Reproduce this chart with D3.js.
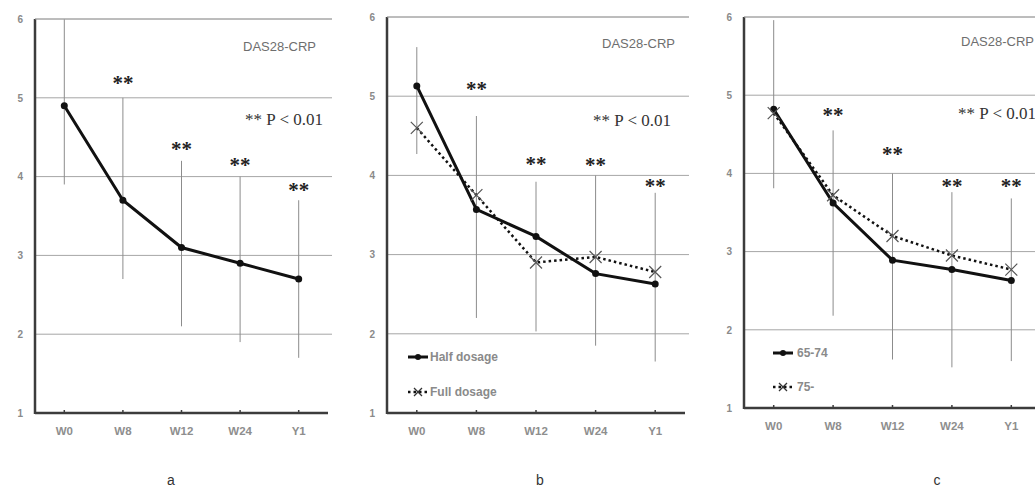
<!DOCTYPE html>
<html>
<head>
<meta charset="utf-8">
<script src="https://cdn.jsdelivr.net/npm/d3@7"></script>
<style>
  body { margin: 0; background: #fff; }
  svg { display: block; }
</style>
</head>
<body>
<div id="chart"></div>
<script>
// data
const categories = ['W0', 'W8', 'W12', 'W24', 'Y1'];
const yTicks = [1, 2, 3, 4, 5, 6];

// panel a: all patients
const aMean  = [4.9, 3.7, 3.1, 2.9, 2.7];
const aUpper = [6.0, 5.0, 4.2, 4.0, 3.7];
const aLower = [3.9, 2.7, 2.1, 1.9, 1.7];
const aStars = [null, 5.23, 4.39, 4.19, 3.88];

// panel b: half vs full dosage
const bHalf  = [5.13, 3.57, 3.23, 2.76, 2.63];
const bFull  = [4.6, 3.75, 2.9, 2.97, 2.78];
const bUpper = [5.62, 4.75, 3.92, 4.0, 3.78];
const bLower = [4.27, 2.2, 2.03, 1.85, 1.65];
const bStars = [null, 5.13, 4.19, 4.18, 3.91];

// panel c: age groups
const c6574  = [4.82, 3.62, 2.89, 2.77, 2.63];
const c75    = [4.77, 3.72, 3.2, 2.95, 2.77];
const cUpper = [5.96, 4.55, 4.0, 3.76, 3.68];
const cLower = [3.81, 2.18, 1.62, 1.52, 1.6];
const cStars = [null, 4.79, 4.29, 3.89, 3.89];

const svg = d3.select('#chart').append('svg')
    .attr('width', 1035)
    .attr('height', 487);

const sans = "'Liberation Sans', Arial, sans-serif";
const serif = "'Liberation Serif', 'Times New Roman', serif";

function drawPanel(cfg) {
    const x = d3.scaleBand().domain(categories).range([cfg.x0, cfg.x1]);
    const cx = c => x(c) + x.bandwidth() / 2;
    const y = d3.scaleLinear().domain([1, 6]).range([cfg.yBot, cfg.yTop]);
    const g = svg.append('g');

    // horizontal grid
    g.selectAll('line.grid')
        .data(yTicks.filter(t => t > 1))
        .enter().append('line')
        .attr('x1', cfg.x0).attr('x2', cfg.x1 + 4)
        .attr('y1', d => y(d)).attr('y2', d => y(d))
        .attr('stroke', '#a6a6a6').attr('stroke-width', 1);

    // y labels
    const yAxis = d3.axisLeft(y).tickValues(yTicks).tickFormat(d3.format('d'))
        .tickSize(0).tickPadding(12);
    const ya = g.append('g').attr('transform', `translate(${cfg.x0},0)`).call(yAxis);
    ya.select('.domain').remove();
    ya.selectAll('text')
        .attr('font-family', sans).attr('font-size', 10).attr('font-weight', 'bold')
        .attr('fill', '#8a8a8a');

    // error bars (no caps)
    g.selectAll('line.err')
        .data(categories)
        .enter().append('line')
        .attr('x1', d => cx(d)).attr('x2', d => cx(d))
        .attr('y1', (d, i) => y(cfg.upper[i]))
        .attr('y2', (d, i) => y(cfg.lower[i]))
        .attr('stroke', '#8c8c8c').attr('stroke-width', 1);

    // significance stars
    g.selectAll('text.star')
        .data(categories.filter((d, i) => cfg.stars[i] != null))
        .enter().append('text')
        .attr('x', d => cx(d))
        .attr('y', d => y(cfg.stars[categories.indexOf(d)]))
        .attr('dy', '0.5em')
        .attr('text-anchor', 'middle')
        .attr('font-family', serif).attr('font-size', 21).attr('font-weight', 'bold')
        .attr('fill', '#222')
        .text('**');

    // series
    cfg.series.forEach(s => {
        const line = d3.line().x((d, i) => cx(categories[i])).y(d => y(d));
        g.append('path')
            .datum(s.values)
            .attr('d', line)
            .attr('fill', 'none')
            .attr('stroke', '#111')
            .attr('stroke-width', s.dotted ? 2.5 : 3)
            .attr('stroke-dasharray', s.dotted ? '2.5,3' : null);
        if (s.dotted) {
            g.selectAll(null)
                .data(s.values)
                .enter().append('path')
                .attr('transform', (d, i) => `translate(${cx(categories[i])},${y(d)})`)
                .attr('d', 'M-6,-6L6,6M-6,6L6,-6')
                .attr('stroke', '#555').attr('stroke-width', 1.2);
        } else {
            g.selectAll(null)
                .data(s.values)
                .enter().append('circle')
                .attr('cx', (d, i) => cx(categories[i]))
                .attr('cy', d => y(d))
                .attr('r', 3.5)
                .attr('fill', '#111');
        }
    });

    // axes lines
    g.append('line')
        .attr('x1', cfg.x0).attr('x2', cfg.x0)
        .attr('y1', cfg.yTop).attr('y2', cfg.yBot + 1)
        .attr('stroke', '#3c3c3c').attr('stroke-width', 2.5);
    g.append('line')
        .attr('x1', cfg.x0).attr('x2', cfg.x1)
        .attr('y1', cfg.yBot).attr('y2', cfg.yBot)
        .attr('stroke', '#3c3c3c').attr('stroke-width', 2.5);
    g.append('line')
        .attr('x1', cfg.x0).attr('x2', cfg.x1 + 4)
        .attr('y1', cfg.yTop).attr('y2', cfg.yTop)
        .attr('stroke', '#a6a6a6').attr('stroke-width', 1);

    // x labels + little ticks
    const xAxis = d3.axisBottom(x).tickSize(0).tickPadding(14);
    const xa = g.append('g').attr('transform', `translate(0,${cfg.yBot})`).call(xAxis);
    xa.select('.domain').remove();
    xa.selectAll('text')
        .attr('font-family', sans).attr('font-size', 11.5).attr('font-weight', 'bold')
        .attr('fill', '#8e8e8e');
    g.selectAll('line.xt')
        .data(categories)
        .enter().append('line')
        .attr('x1', d => cx(d)).attr('x2', d => cx(d))
        .attr('y1', cfg.yBot).attr('y2', cfg.yBot - 3)
        .attr('stroke', '#3c3c3c').attr('stroke-width', 1.5);

    // titles
    g.append('text')
        .attr('x', cfg.titleX).attr('y', cfg.titleY)
        .attr('text-anchor', 'end')
        .attr('font-family', sans).attr('font-size', 13)
        .attr('fill', '#6e6e6e')
        .text('DAS28-CRP');
    g.append('text')
        .attr('x', cfg.pX).attr('y', cfg.pY)
        .attr('text-anchor', 'end')
        .attr('font-family', serif).attr('font-size', 17)
        .attr('fill', '#333')
        .text('** P < 0.01');

    // legend
    if (cfg.legend) {
        cfg.series.forEach((s, k) => {
            const ly = cfg.legend.y[k];
            const lx = cfg.legend.x;
            g.append('line')
                .attr('x1', lx).attr('x2', lx + 20)
                .attr('y1', ly).attr('y2', ly)
                .attr('stroke', '#111')
                .attr('stroke-width', s.dotted ? 2.5 : 3)
                .attr('stroke-dasharray', s.dotted ? '2.5,3' : null);
            if (s.dotted) {
                g.append('path')
                    .attr('transform', `translate(${lx + 10},${ly})`)
                    .attr('d', 'M-4,-4L4,4M-4,4L4,-4')
                    .attr('stroke', '#333').attr('stroke-width', 1.3);
            } else {
                g.append('circle')
                    .attr('cx', lx + 10).attr('cy', ly).attr('r', 3)
                    .attr('fill', '#111');
            }
            g.append('text')
                .attr('x', lx + cfg.legend.gap).attr('y', ly)
                .attr('dy', '0.35em')
                .attr('font-family', sans).attr('font-size', 12).attr('font-weight', 'bold')
                .attr('fill', '#8a8a8a')
                .text(s.name);
        });
    }

    // panel letter
    g.append('text')
        .attr('x', cfg.letterX).attr('y', 485)
        .attr('text-anchor', 'middle')
        .attr('font-family', sans).attr('font-size', 14)
        .attr('fill', '#333')
        .text(cfg.letter);
}

drawPanel({
    x0: 35, x1: 328, yTop: 19, yBot: 413,
    upper: aUpper, lower: aLower, stars: aStars,
    series: [{ name: 'All', values: aMean, dotted: false }],
    titleX: 316, titleY: 51, pX: 323, pY: 125, letter: 'a', letterX: 171
});

drawPanel({
    x0: 387, x1: 685, yTop: 17, yBot: 413,
    upper: bUpper, lower: bLower, stars: bStars,
    series: [
        { name: 'Half dosage', values: bHalf, dotted: false },
        { name: 'Full dosage', values: bFull, dotted: true }
    ],
    legend: { x: 408, y: [357, 392], gap: 22 },
    titleX: 675, titleY: 48, pX: 671, pY: 126, letter: 'b', letterX: 540
});

drawPanel({
    x0: 744, x1: 1041, yTop: 17, yBot: 408,
    upper: cUpper, lower: cLower, stars: cStars,
    series: [
        { name: '65-74', values: c6574, dotted: false },
        { name: '75-', values: c75, dotted: true }
    ],
    legend: { x: 773, y: [353, 387], gap: 24 },
    titleX: 1034, titleY: 46, pX: 1036, pY: 119, letter: 'c', letterX: 937
});
</script>
</body>
</html>
